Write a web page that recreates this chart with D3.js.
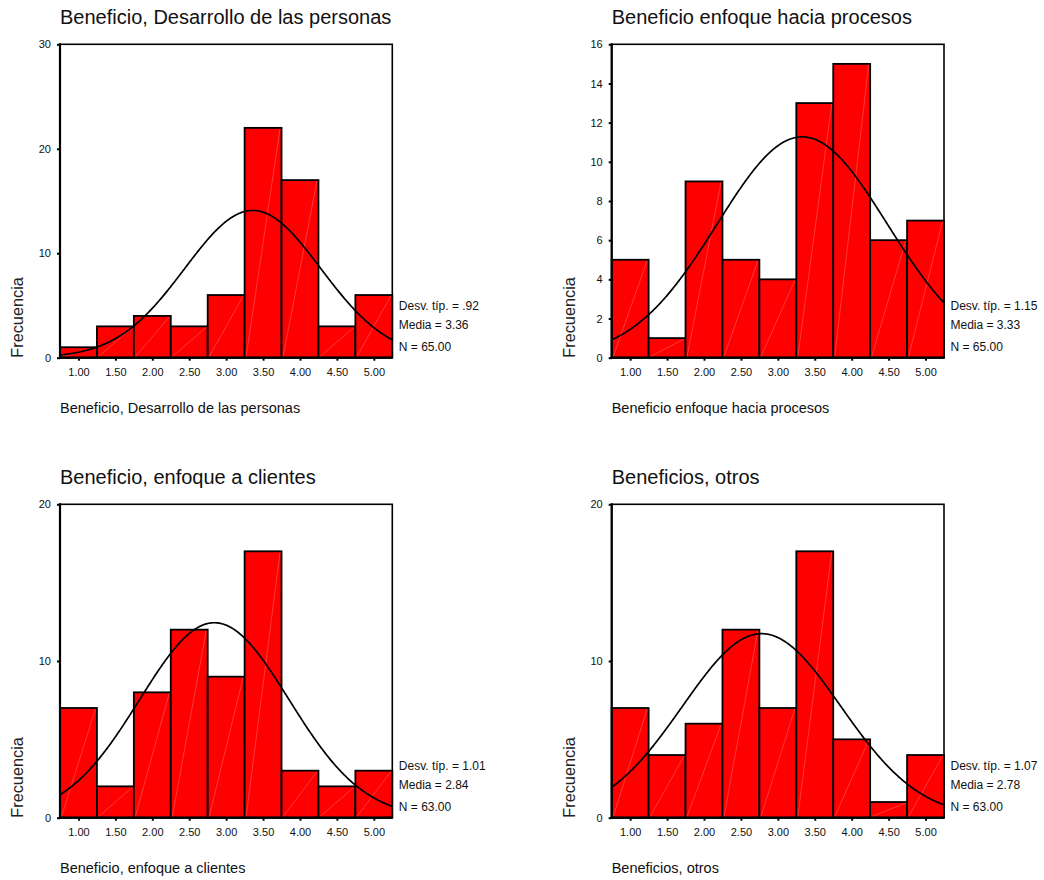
<!DOCTYPE html>
<html>
<head>
<meta charset="utf-8">
<script src="https://cdn.jsdelivr.net/npm/d3@7"></script>
<style>
  html, body { margin: 0; padding: 0; background: #fff; }
  svg { display: block; font-family: "Liberation Sans", Arial, sans-serif; }
</style>
</head>
<body>
<svg id="chart" width="1044" height="880"></svg>
<script>
// Histogram bins (midpoints, width 0.5) shared by the four panels
const binCenters = [1.00, 1.50, 2.00, 2.50, 3.00, 3.50, 4.00, 4.50, 5.00];
const binTickLabels = ["1.00", "1.50", "2.00", "2.50", "3.00", "3.50", "4.00", "4.50", "5.00"];
const binWidth = 0.5;

const panelTitles = [
  "Beneficio, Desarrollo de las personas",
  "Beneficio enfoque hacia procesos",
  "Beneficio, enfoque a clientes",
  "Beneficios, otros"
];

// Frequencies per bin
const countsDesarrollo = [1, 3, 4, 3, 6, 22, 17, 3, 6];
const countsProcesos   = [5, 1, 9, 5, 4, 13, 15, 6, 7];
const countsClientes   = [7, 2, 8, 12, 9, 17, 3, 2, 3];
const countsOtros      = [7, 4, 6, 12, 7, 17, 5, 1, 4];

// Summary statistics shown next to each histogram
const stdDevs   = [0.92, 1.15, 1.01, 1.07];
const stdLabels = [".92", "1.15", "1.01", "1.07"];
const means     = [3.36, 3.33, 2.84, 2.78];
const nValues   = [65, 65, 63, 63];

// Frequency axis ticks
const yTicksDesarrollo = [0, 10, 20, 30];
const yTicksProcesos   = [0, 2, 4, 6, 8, 10, 12, 14, 16];
const yTicksClientes   = [0, 10, 20];
const yTicksOtros      = [0, 10, 20];

const panels = [
  { title: panelTitles[0], counts: countsDesarrollo, yTicks: yTicksDesarrollo, sd: stdDevs[0], sdLabel: stdLabels[0], mean: means[0], n: nValues[0], x0: 60,    y0: 44.3 },
  { title: panelTitles[1], counts: countsProcesos,   yTicks: yTicksProcesos,   sd: stdDevs[1], sdLabel: stdLabels[1], mean: means[1], n: nValues[1], x0: 611.7, y0: 44.3 },
  { title: panelTitles[2], counts: countsClientes,   yTicks: yTicksClientes,   sd: stdDevs[2], sdLabel: stdLabels[2], mean: means[2], n: nValues[2], x0: 60,    y0: 504.3 },
  { title: panelTitles[3], counts: countsOtros,      yTicks: yTicksOtros,      sd: stdDevs[3], sdLabel: stdLabels[3], mean: means[3], n: nValues[3], x0: 611.7, y0: 504.3 }
];

const plotW = 332.3, plotH = 313.4;
const svg = d3.select("#chart");

panels.forEach(p => {
  const g = svg.append("g");
  const xLo = binCenters[0] - binWidth / 2;
  const xHi = binCenters[binCenters.length - 1] + binWidth / 2;
  const x = d3.scaleLinear().domain([xLo, xHi]).range([p.x0, p.x0 + plotW]);
  const y = d3.scaleLinear().domain([0, d3.max(p.yTicks)]).range([p.y0 + plotH, p.y0]);

  // Title
  g.append("text")
    .attr("x", p.x0).attr("y", p.y0 - 20)
    .attr("font-size", 20).attr("fill", "#111")
    .text(p.title);

  // Plot frame
  g.append("rect")
    .attr("x", p.x0).attr("y", p.y0)
    .attr("width", plotW).attr("height", plotH)
    .attr("fill", "none").attr("stroke", "#000").attr("stroke-width", 1.6);

  // Bars
  const bins = binCenters.map((c, i) => ({ c, v: p.counts[i] }));
  const bars = g.append("g");
  bars.selectAll("rect").data(bins).join("rect")
    .attr("x", d => x(d.c - binWidth / 2))
    .attr("y", d => y(d.v))
    .attr("width", d => x(d.c + binWidth / 2) - x(d.c - binWidth / 2))
    .attr("height", d => y(0) - y(d.v))
    .attr("fill", "#ff0000")
    .attr("stroke", "#000").attr("stroke-width", 1.8);
  // faint diagonal sheen inside each bar
  bars.selectAll("line").data(bins.filter(d => d.v > 0)).join("line")
    .attr("x1", d => x(d.c - binWidth / 2) + 1.5)
    .attr("y1", y(0) - 1)
    .attr("x2", d => x(d.c + binWidth / 2) - 1.5)
    .attr("y2", d => y(d.v) + 1)
    .attr("stroke", "rgba(255,200,200,0.55)").attr("stroke-width", 0.5);

  // Normal curve fitted from mean, sd and N (scaled to bin width)
  const pts = d3.range(0, 401).map(k => xLo + (xHi - xLo) * k / 400);
  const dens = v => p.n * binWidth * Math.exp(-0.5 * Math.pow((v - p.mean) / p.sd, 2)) / (p.sd * Math.sqrt(2 * Math.PI));
  g.append("path")
    .datum(pts)
    .attr("d", d3.line().x(v => x(v)).y(v => y(dens(v))))
    .attr("fill", "none").attr("stroke", "#000").attr("stroke-width", 1.7);

  // Left and bottom axis lines, drawn heavier
  g.append("line").attr("x1", p.x0).attr("x2", p.x0).attr("y1", p.y0 - 1).attr("y2", p.y0 + plotH + 1)
    .attr("stroke", "#000").attr("stroke-width", 2.2);
  g.append("line").attr("x1", p.x0 - 1).attr("x2", p.x0 + plotW).attr("y1", p.y0 + plotH).attr("y2", p.y0 + plotH)
    .attr("stroke", "#000").attr("stroke-width", 2.2);

  // Y axis
  const yAxis = d3.axisLeft(y).tickValues(p.yTicks).tickSize(3).tickPadding(6).tickFormat(d3.format("d"));
  const ya = g.append("g").attr("transform", `translate(${p.x0},0)`).call(yAxis);
  ya.select(".domain").remove();
  ya.selectAll(".tick line").attr("stroke", "#000").attr("stroke-width", 2);
  ya.selectAll(".tick text").attr("font-size", 11).attr("fill", "#111")
    .attr("font-family", "Liberation Sans, Arial, sans-serif");

  // X axis
  const xAxis = d3.axisBottom(x).tickValues(binCenters).tickSize(3).tickPadding(8)
    .tickFormat((d, i) => binTickLabels[i]);
  const xa = g.append("g").attr("transform", `translate(0,${p.y0 + plotH})`).call(xAxis);
  xa.select(".domain").remove();
  xa.selectAll(".tick line").attr("stroke", "#000").attr("stroke-width", 2);
  xa.selectAll(".tick text").attr("font-size", 11).attr("fill", "#111")
    .attr("font-family", "Liberation Sans, Arial, sans-serif");

  // X axis title
  g.append("text")
    .attr("x", p.x0).attr("y", p.y0 + plotH + 55)
    .attr("font-size", 14.5).attr("fill", "#111")
    .text(p.title);

  // Y axis title
  g.append("text")
    .attr("transform", `translate(${p.x0 - 37},${p.y0 + plotH}) rotate(-90)`)
    .attr("text-anchor", "start")
    .attr("font-size", 16.3).attr("fill", "#222")
    .text("Frecuencia");

  // Statistics
  const sx = p.x0 + plotW + 6.5;
  const stats = [
    { t: `Desv. típ. = ${p.sdLabel}`, dy: -48 },
    { t: `Media = ${d3.format(".2f")(p.mean)}`, dy: -28.5 },
    { t: `N = ${d3.format(".2f")(p.n)}`, dy: -7 }
  ];
  g.selectAll("text.stat").data(stats).join("text")
    .attr("class", "stat")
    .attr("x", sx).attr("y", d => p.y0 + plotH + d.dy)
    .attr("font-size", 12).attr("fill", "#111")
    .text(d => d.t);
});
</script>
</body>
</html>
